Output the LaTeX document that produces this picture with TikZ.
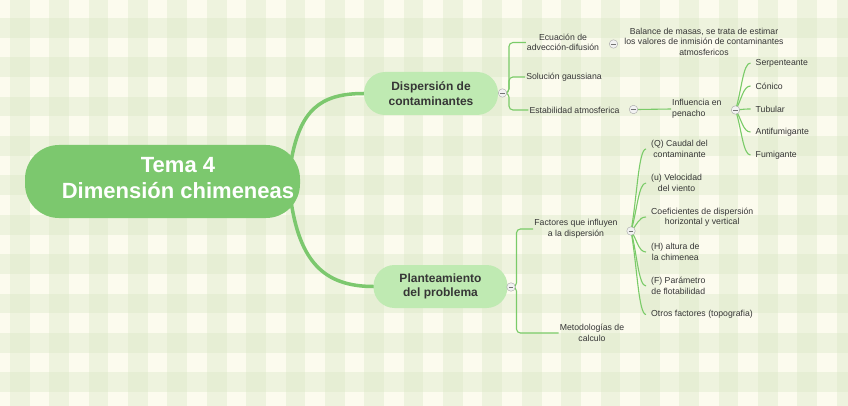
\documentclass[tikz,border=0pt]{standalone}
\usepackage{fontspec}
\setmainfont{Liberation Sans}
\usepackage{xcolor}
\usepackage{tikz}
\usetikzlibrary{calc}
\definecolor{bgcream}{HTML}{FCFBEE}
\definecolor{bgcheck}{HTML}{DDE9C8}
\definecolor{rootgreen}{HTML}{7CC86E}
\definecolor{subgreen}{HTML}{BFEAB2}
\definecolor{linegreen}{HTML}{7ACB68}
\definecolor{txtgray}{HTML}{363636}
\pgfdeclarelayer{bg}
\pgfdeclarelayer{edges}
\pgfsetlayers{bg,edges,main}

\begin{document}
\begin{tikzpicture}[
    x=1pt, y=-1pt,
    rootbox/.style={rectangle, fill=rootgreen, rounded corners=34pt, minimum width=275pt, minimum height=73pt},
    roottext/.style={align=center, text=white, font=\fontsize{22}{26.5}\selectfont\bfseries},
    topic/.style={rectangle, fill=subgreen, rounded corners=21pt, minimum width=134pt, minimum height=43pt, align=center, text=txtgray, font=\fontsize{12}{14.5}\selectfont\bfseries},
    leaf/.style={align=center, inner sep=1pt, text=txtgray, font=\fontsize{8.7}{10.5}\selectfont},
    fanleaf/.style={leaf, anchor=west, inner xsep=5pt},
    collapse/.style={circle, draw=gray!70, fill=gray!10, minimum size=8.5pt, inner sep=0pt,
        path picture={\draw[gray!90!black, line width=0.6pt] ([xshift=1.8pt]path picture bounding box.west) -- ([xshift=-1.8pt]path picture bounding box.east);}},
    mainbranch/.style={draw=rootgreen, line width=3.5pt, line cap=round},
    branch/.style={draw=linegreen, line width=1.1pt},
    stripe/.style={fill=bgcheck, fill opacity=0.42}
]
\useasboundingbox (0,0) rectangle (848,406);

% Gingham background
\begin{pgfonlayer}{bg}
\fill[bgcream] (0,0) rectangle (848,406);
\begin{scope}
\clip (0,0) rectangle (848,406);
\foreach \k in {0,...,21} \fill[stripe] ({10+39.37*\k},0) rectangle ({29.7+39.37*\k},406);
\foreach \k in {0,...,10} \fill[stripe] (0,{18+39.37*\k}) rectangle (848,{37.7+39.37*\k});
\end{scope}
\end{pgfonlayer}

% Central topic
\node[rootbox] (root) at (162.5,181.5) {};
\node[roottext] (roottitle) at (178,178) {Tema 4\\Dimensión chimeneas};

% Main topics
\node[topic] (disp) at (431,93.5) {Dispersión de\\contaminantes};
\node[topic] (plant) at (440.5,286.5) {Planteamiento\\del problema};
\node[collapse] (cdisp) at (502.5,93) {};
\node[collapse] (cplant) at (511,287) {};

\begin{pgfonlayer}{edges}
\draw[mainbranch] ([shift={(-9,-21)}]root.east) .. controls +(9,-50) and +(-44,0) .. (disp.west);
\draw[mainbranch] ([shift={(-9,21)}]root.east) .. controls +(9,58) and +(-50,0) .. (plant.west);
\end{pgfonlayer}

% Dispersion de contaminantes
\node[leaf] (ecuacion) at (563,42.5) {Ecuación de\\advección-difusión};
\node[leaf] (solucion) at (564,77) {Solución gaussiana};
\node[leaf] (estab) at (574.5,110) {Estabilidad atmosferica};
\node[collapse] (cecuacion) at (613.5,44) {};
\node[leaf] (balance) at (704,41.5) {Balance de masas, se trata de estimar\\los valores de inmisión de contaminantes\\atmosfericos};
\node[collapse] (cestab) at (633.5,109.5) {};
\node[leaf, align=left, anchor=west] (influencia) at (671,109) {Influencia en\\penacho};
\node[collapse] (cinfl) at (735.5,110) {};

\node[fanleaf] (serp) at (750.5,63) {Serpenteante};
\node[fanleaf] (conico) at (750.5,86) {Cónico};
\node[fanleaf] (tubular) at (750.5,109) {Tubular};
\node[fanleaf] (antifum) at (750.5,132) {Antifumigante};
\node[fanleaf] (fumig) at (750.5,155) {Fumigante};

\begin{pgfonlayer}{edges}
\foreach \c in {ecuacion,solucion,estab}
  \draw[branch, rounded corners=4pt] (cdisp.east) -- ++(2,0) |- (\c.west);
\draw[branch] (cestab.east) -- (influencia.west);
\foreach \c in {serp,conico,tubular,antifum,fumig}
  \draw[branch] (cinfl.center) .. controls ($(cinfl.center)!0.4!(\c.west)$) and ($(cinfl.center|-\c.west)!0.5!(\c.west)$) .. (\c.west);
\end{pgfonlayer}

% Planteamiento del problema
\node[leaf] (factores) at (576,229) {Factores que influyen\\a la dispersión};
\node[leaf] (metodo) at (592,333) {Metodologías de\\calculo};
\node[collapse] (cfact) at (631,231) {};

\node[fanleaf] (caudal) at (646,149) {(Q) Caudal del\\contaminante};
\node[fanleaf] (velocidad) at (646,183) {(u) Velocidad\\del viento};
\node[fanleaf] (coef) at (646,217) {Coeficientes de dispersión\\horizontal y vertical};
\node[fanleaf] (altura) at (646,252) {(H) altura de\\la chimenea};
\node[fanleaf] (flotab) at (646,286) {(F) Parámetro\\de flotabilidad};
\node[fanleaf] (otros) at (646,314.5) {Otros factores (topografia)};

\begin{pgfonlayer}{edges}
\foreach \c in {factores,metodo}
  \draw[branch, rounded corners=4pt] (cplant.east) -- ++(1,0) |- (\c.west);
\foreach \c in {caudal,velocidad,coef,altura,flotab,otros}
  \draw[branch] (cfact.center) .. controls ($(cfact.center)!0.4!(\c.west)$) and ($(cfact.center|-\c.west)!0.5!(\c.west)$) .. (\c.west);
\end{pgfonlayer}

\end{tikzpicture}
\end{document}
